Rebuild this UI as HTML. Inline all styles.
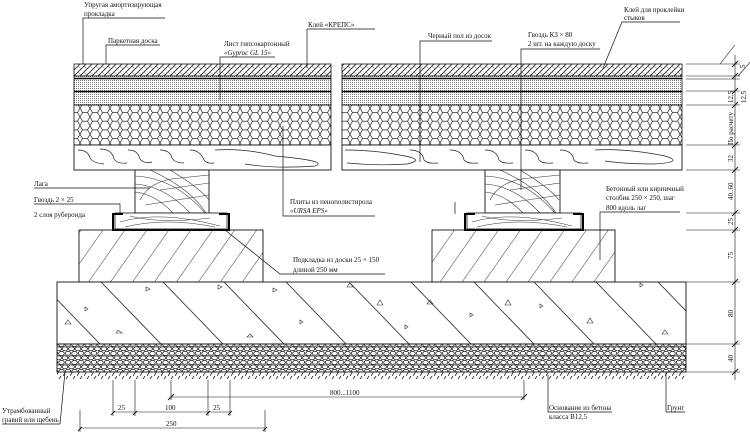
<!DOCTYPE html>
<html><head><meta charset="utf-8"><style>
html,body{margin:0;padding:0;background:#fff;}
svg{display:block;font-family:"Liberation Serif","Noto Serif CJK SC",serif;}
text{font-size:7px;fill:#111;}
</style></head><body>
<svg width="750" height="435" viewBox="0 0 750 435" xmlns="http://www.w3.org/2000/svg">
<defs>
<pattern id="parq" width="6" height="6" patternUnits="userSpaceOnUse"><path d="M0 6L6 0M-1 1L1 -1M5 7L7 5" stroke="#222" stroke-width="0.8"/><path d="M0 0L3 3" stroke="#444" stroke-width="0.5"/></pattern>
<pattern id="dots" width="2" height="2" patternUnits="userSpaceOnUse"><rect width="2" height="2" fill="#fff"/><rect width="1" height="1" fill="#777"/></pattern>
<pattern id="hex" width="10" height="8.66" patternUnits="userSpaceOnUse"><path d="M2.5 0L7.5 0L10 4.33L7.5 8.66L2.5 8.66L0 4.33Z" fill="none" stroke="#222" stroke-width="0.7"/></pattern>
<pattern id="padh" width="18" height="18" patternUnits="userSpaceOnUse" patternTransform="rotate(35)"><line x1="0" y1="0" x2="0" y2="18" stroke="#222" stroke-width="0.9"/></pattern>
<pattern id="gravel" width="13" height="9" patternUnits="userSpaceOnUse"><rect width="13" height="9" fill="#fff"/><g fill="none" stroke="#222" stroke-width="0.8"><ellipse cx="3" cy="2.3" rx="2.7" ry="2"/><ellipse cx="9.5" cy="2.5" rx="2.8" ry="2.2"/><ellipse cx="6.5" cy="6.8" rx="3" ry="2"/><ellipse cx="0" cy="6.8" rx="2.8" ry="2"/><ellipse cx="13" cy="6.8" rx="2.8" ry="2"/></g></pattern>
<pattern id="ground" width="7" height="8" patternUnits="userSpaceOnUse"><line x1="0" y1="8" x2="5" y2="0" stroke="#222" stroke-width="0.8"/></pattern>
<clipPath id="cc"><rect x="57" y="282" width="629" height="62"/></clipPath>
</defs>

<g stroke="#111">
<rect x="74" y="64" width="257" height="12" fill="url(#parq)" stroke-width="0.8"/>
<rect x="342" y="64" width="340" height="12" fill="url(#parq)" stroke-width="0.8"/>
<rect x="74" y="76" width="257" height="29" fill="url(#dots)" stroke-width="0.8"/>
<rect x="342" y="76" width="340" height="29" fill="url(#dots)" stroke-width="0.8"/>
<rect x="74" y="105" width="257" height="40" fill="url(#hex)" stroke-width="0.8"/>
<rect x="342" y="105" width="340" height="40" fill="url(#hex)" stroke-width="0.8"/>
<rect x="74" y="145" width="257" height="25" fill="#fff" stroke-width="0.9"/>
<rect x="342" y="145" width="340" height="25" fill="#fff" stroke-width="0.9"/>
</g>
<g stroke="#000" stroke-width="1.6"><line x1="74" y1="78.5" x2="331" y2="78.5"/><line x1="342" y1="78.5" x2="682" y2="78.5"/><line x1="74" y1="91.5" x2="331" y2="91.5"/><line x1="342" y1="91.5" x2="682" y2="91.5"/></g>
<g fill="none" stroke="#222" stroke-width="0.7">
<path d="M78 150 q10 0 12 8 q3 5 14 6 M100 149 q12 0 14 10 q3 5 13 4 M128 150 q10 0 12 9 q4 5 12 3 M160 150 q10 0 12 8 q3 5 12 5 M190 150 q10 0 14 10 q3 4 10 3 M215 150 q30 -2 60 6 q55 5 40 10 q-40 3 -70 -2"/>
<path d="M345 150 q30 0 60 6 q20 4 2 8 q-30 2 -60 -1 M410 150 q12 0 14 10 q3 4 14 3 M450 150 q12 0 14 10 q3 4 14 3 M485 150 q12 0 14 10 q3 4 14 3 M525 150 q12 0 14 10 q3 4 14 3 M560 150 q12 0 14 10 q3 4 14 3 M595 150 q30 -2 70 6 q20 6 -10 8 q-30 0 -50 -3"/>
</g>
<g fill="#fff" stroke="#111" stroke-width="0.9">
<rect x="135" y="170" width="74" height="43"/>
<rect x="485" y="170" width="75" height="43"/>
</g>
<g fill="none" stroke="#333" stroke-width="0.6">
<path d="M135 176 q40 2 70 37 M135 184 q30 2 55 29 M135 192 q20 2 38 21 M150 170 q40 18 56 43 M170 170 q30 18 39 30 M140 200 q10 -20 40 -22 L209 175 M145 205 L209 195 M160 190 L209 183"/>
<path d="M485 176 q40 2 70 37 M485 184 q30 2 55 29 M485 192 q20 2 38 21 M500 170 q40 18 56 43 M520 170 q30 18 39 30 M490 200 q10 -20 40 -22 L560 175 M495 205 L560 195 M510 190 L560 183"/>
</g>
<g fill="#fff" stroke="#111" stroke-width="0.8"><rect x="115" y="213" width="112" height="16"/><rect x="467" y="213" width="114" height="16"/></g>
<g fill="none" stroke="#333" stroke-width="0.5"><path d="M120 222 q40 -12 100 4 M125 227 q40 -10 90 0 M130 216 q30 8 80 2 M472 222 q40 -12 100 4 M477 227 q40 -10 90 0 M482 216 q30 8 80 2"/></g>
<g fill="none" stroke="#000" stroke-width="2"><path d="M123 214 H113 V230 H229 V214 H219"/><path d="M475 214 H465 V230 H583 V214 H573"/></g>
<rect x="79" y="230" width="184" height="52" fill="url(#padh)" stroke="#111" stroke-width="0.9"/>
<rect x="432" y="230" width="183" height="52" fill="url(#padh)" stroke="#111" stroke-width="0.9"/>
<rect x="57" y="282" width="629" height="62" fill="#fff" stroke="#111" stroke-width="0.9"/>
<g stroke="#222" stroke-width="0.8" clip-path="url(#cc)">
<line x1="40" y1="282" x2="100" y2="344"/><line x1="101" y1="282" x2="161" y2="344"/>
<line x1="163" y1="282" x2="223" y2="344"/><line x1="224" y1="282" x2="284" y2="344"/>
<line x1="286" y1="282" x2="346" y2="344"/><line x1="349" y1="282" x2="409" y2="344"/>
<line x1="411" y1="282" x2="471" y2="344"/><line x1="474" y1="282" x2="534" y2="344"/>
<line x1="534" y1="282" x2="594" y2="344"/><line x1="596" y1="282" x2="656" y2="344"/>
<line x1="658" y1="282" x2="718" y2="344"/>
</g>
<g fill="none" stroke="#333" stroke-width="0.6">
<path d="M146 287l4 2-4 2z M218 285l4 2-4 2z M273 288l4 2-4 2z M350 283l3 4h-6z M430 300l3 4h-6z M508 300l3 5h-6z M640 283l3 2-3 2z M85 307l3 2-3 2z M68 320l3 4h-6z M118 330l4 3h-6z M300 320l3 2-3 2z M380 300l3 5h-6z M590 318l3 5h-6z M665 330l3 4h-6z M250 334l3 3h-6z M405 325l3 2-3 2z M540 304l3 2-3 2z M470 313l3 2-3 2z"/>
</g>
<rect x="57" y="344" width="629" height="28" fill="url(#gravel)" stroke="#111" stroke-width="0.9"/>
<rect x="57" y="372" width="629" height="7" fill="url(#ground)"/>

<g fill="none" stroke="#111" stroke-width="0.7">
<path d="M83 64V18H165"/><path d="M106 64V45H160"/><path d="M220 100V57H275"/>
<path d="M307 68V29H375"/><path d="M420 162V41H492"/><path d="M521 190V49H600"/>
<path d="M603 68L622 22H680"/><path d="M283 126V216H375"/>
<path d="M34 188H150"/><path d="M34 204H120V213"/><path d="M455 214V202"/>
<path d="M600 260V212H680"/>
<path d="M225 230L280 274H385"/>
<path d="M65 372L60 424M2 424H60"/>
<path d="M548 375V412H612"/><path d="M666 372V412H685"/>
</g>
<g fill="none" stroke="#111" stroke-width="0.6">
<path d="M171 380V400M524 380V400M171 397H524"/>
<path d="M113 380V416M135 380V416M208 380V416M230 380V416M113 412H230"/>
<path d="M80 410V432M265 410V432M80 428H265"/>
</g>
<g stroke="#111" stroke-width="0.9"><path d="M168 400l6 -6M521 400l6 -6M111 415l4 -4M133 415l4 -4M206 415l4 -4M228 415l4 -4M78 431l4 -4M263 431l4 -4"/></g>
<g fill="none" stroke="#111" stroke-width="0.6">
<path d="M686 64H740M686 76H740M686 79H740M686 91H740M686 105H740M686 145H740M686 170H740M686 213H740M686 230H740M686 282H740M686 344H740M686 372H740"/>
<path d="M735 55V380"/><path d="M720 64L735 45"/>
<path d="M738 76L752 60"/>
</g>
<g stroke="#111" stroke-width="0.9"><path d="M732 67l6 -6M732 79l6 -6M732 94l6 -6M732 108l6 -6M732 148l6 -6M732 173l6 -6M732 216l6 -6M732 233l6 -6M732 285l6 -6M732 347l6 -6M732 375l6 -6"/></g>
<g font-size="6.5">
<text transform="translate(745,68) rotate(-90)">5</text>
<text transform="translate(733,103) rotate(-90)">12,5</text>
<text transform="translate(746,103) rotate(-90)">12,5</text>
<text transform="translate(733,145) rotate(-90)">По расчету</text>
<text transform="translate(733,162) rotate(-90)">32</text>
<text transform="translate(733,200) rotate(-90)">40..60</text>
<text transform="translate(733,225) rotate(-90)">25</text>
<text transform="translate(733,259) rotate(-90)">75</text>
<text transform="translate(733,317) rotate(-90)">80</text>
<text transform="translate(733,362) rotate(-90)">40</text>
</g>
<text x="84" y="7">Упругая амортизирующая</text><text x="84" y="16">прокладка</text>
<text x="108" y="43">Паркетная доска</text>
<text x="224" y="46">Лист гипсокартонный</text><text x="224" y="55" font-style="italic">«Gyproc GL 15»</text>
<text x="308" y="27">Клей «КРЕПС»</text>
<text x="428" y="38">Черный пол из досок</text>
<text x="528" y="37">Гвоздь КЗ × 80</text><text x="528" y="46">2 шт. на каждую доску</text>
<text x="624" y="12">Клей для проклейки</text><text x="624" y="20">стыков</text>
<text x="290" y="204">Плиты из пенополистирола</text><text x="290" y="213" font-style="italic">«URSA EPS»</text>
<text x="34" y="186">Лага</text>
<text x="34" y="202">Гвоздь 2 × 25</text>
<text x="34" y="217">2 слоя рубероида</text>
<text x="606" y="191">Бетонный или кирпичный</text><text x="606" y="200">столбик 250 × 250, шаг</text><text x="606" y="210">800 вдоль лаг</text>
<text x="293" y="262">Подкладка из доски 25 × 150</text><text x="293" y="272">длиной 250 мм</text>
<text x="330" y="395">800...1100</text>
<text x="118" y="410">25</text><text x="165" y="410">100</text><text x="213" y="410">25</text>
<text x="166" y="426">250</text>
<text x="2" y="413">Утрамбованный</text><text x="2" y="422">гравий или щебень</text>
<text x="549" y="410">Основание из бетона</text><text x="549" y="419">класса В12,5</text>
<text x="667" y="410">Грунт</text>
</svg>
</body></html>
